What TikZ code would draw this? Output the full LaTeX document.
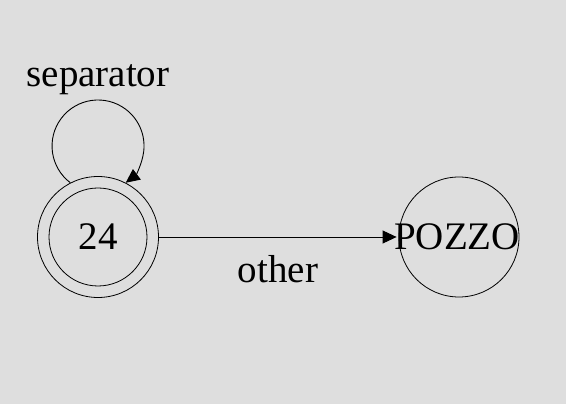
\documentclass[tikz,border=0pt]{standalone}
\usepackage{fontspec}
\setmainfont{Liberation Serif}
\usetikzlibrary{arrows.meta}
\definecolor{bg}{HTML}{DEDEDE}
\begin{document}
\begin{tikzpicture}[x=1pt,y=1pt,
  every node/.style={font=\fontsize{39}{46}\selectfont},
  state/.style={circle,draw,line width=0.8pt,inner sep=0pt,minimum size=121pt},
  edge/.style={line width=0.9pt,-{Triangle[length=14pt,width=13pt]}},
  lbl/.style={inner sep=0pt}]
\fill[bg] (0,0) rectangle (566,404);
\useasboundingbox (0,0) rectangle (566,404);
\node[state] (s24) at (98,167) {24};
\draw[line width=0.8pt] (s24.center) circle (49);
\node[state,minimum size=120pt] (pz) at (459,167) {};
\node[lbl] (pzt) at (457,167) {POZZO};
\draw[edge] (s24.117) arc[start angle=233,end angle=-53,radius=46];
\node[lbl] (sep) at (98,324) {separator};
\draw[edge] (s24.east) -- ([xshift=-2pt]pz.west);
\node[lbl] (oth) at (278,135) {other};
\end{tikzpicture}
\end{document}
